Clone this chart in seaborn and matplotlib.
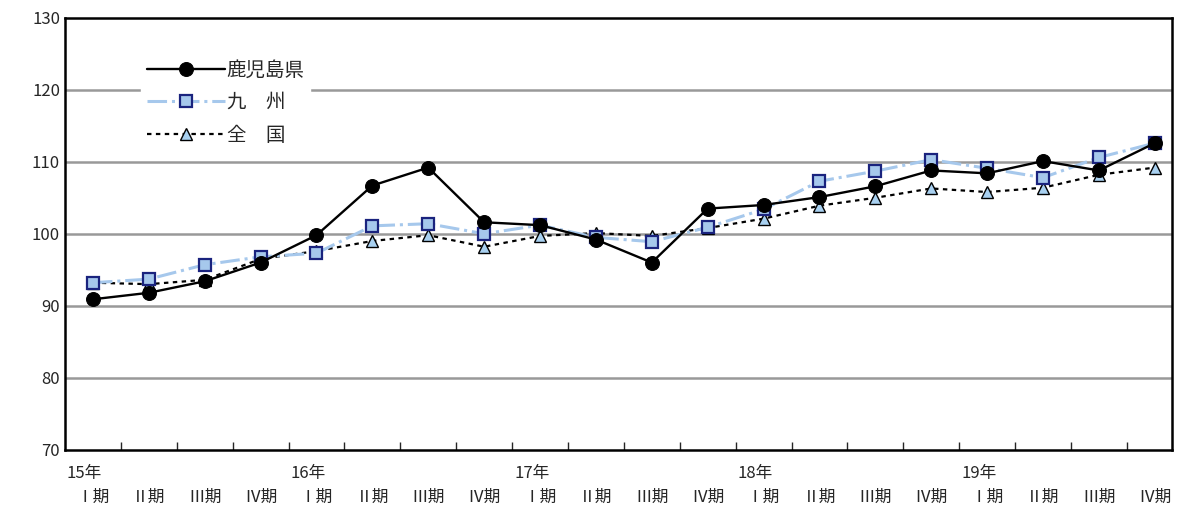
import matplotlib
matplotlib.use('Agg')
import matplotlib.pyplot as plt
import seaborn as sns
import pandas as pd

sns.set_style('white')
plt.rcParams['font.family'] = ['Noto Sans CJK JP', 'DejaVu Sans']

periods = ['Ⅰ期', 'Ⅱ期', 'Ⅲ期', 'Ⅳ期'] * 5
years = ['15年', '16年', '17年', '18年', '19年']
kagoshima = [90.9, 91.8, 93.4, 96.0, 99.8, 106.7, 109.2, 101.6, 101.2, 99.2,
             96.0, 103.5, 104.0, 105.1, 106.6, 108.8, 108.4, 110.1, 108.8, 112.6]
kyushu = [93.2, 93.7, 95.7, 96.8, 97.3, 101.1, 101.4, 100.0, 101.2, 99.5,
          98.9, 100.9, 103.4, 107.3, 108.7, 110.3, 109.1, 107.8, 110.6, 112.6]
zenkoku = [93.2, 93.0, 93.6, 96.5, 97.6, 99.0, 99.8, 98.2, 99.7, 100.1,
           99.7, 100.8, 102.1, 103.9, 105.0, 106.3, 105.8, 106.4, 108.2, 109.2]

df = pd.DataFrame({'x': range(20), 'k': kagoshima, 'q': kyushu, 'z': zenkoku})

fig, ax = plt.subplots(figsize=(11.81, 5.11), dpi=100)
fig.subplots_adjust(left=0.055, right=0.992, top=0.965, bottom=0.12)

for y in [80, 90, 100, 110, 120]:
    ax.axhline(y, color='#999999', lw=1.8, zorder=0)

sns.lineplot(data=df, x='x', y='z', ax=ax, color='black', ls=(0, (2, 2)), lw=1.6,
             marker='^', ms=8, mfc='#a8d0f0', mec='black', mew=1, label='全\u3000国', zorder=3)
sns.lineplot(data=df, x='x', y='q', ax=ax, color='#a6c8ec', ls='-.', lw=2.2,
             marker='s', ms=9, mfc='#a6c8ec', mec='#1a237e', mew=1.6, label='九\u3000州', zorder=4)
sns.lineplot(data=df, x='x', y='k', ax=ax, color='black', lw=1.7,
             marker='o', ms=10, mfc='black', mec='black', label='鹿児島県', zorder=5)

ax.set_xlim(-0.5, 19.3)
ax.set_ylim(70, 130)
ax.set_yticks(range(70, 131, 10))
ax.set_xticks([i + 0.5 for i in range(19)], minor=True)
ax.set_xticks(range(20))
ax.set_xticklabels([])
ax.tick_params(axis='x', which='minor', direction='in', length=6, width=1, bottom=True)
ax.tick_params(axis='x', which='major', length=0)
ax.tick_params(axis='y', length=0, labelsize=12)
ax.set_xlabel('')
ax.set_ylabel('')
for i in range(20):
    ax.text(i, -0.11, periods[i], transform=ax.get_xaxis_transform(), ha='center', va='center', fontsize=12)
for j, yr in enumerate(years):
    ax.text(j * 4 - 0.15, -0.055, yr, transform=ax.get_xaxis_transform(), ha='center', va='center', fontsize=12)
for s in ax.spines.values():
    s.set_linewidth(1.8)
    s.set_color('black')

h, l = ax.get_legend_handles_labels()
leg = ax.legend(h[::-1], l[::-1], loc='upper left', bbox_to_anchor=(0.06, 0.94), frameon=True,
                fontsize=14, handlelength=4, labelspacing=0.6, borderpad=0.3, handletextpad=0.1)
leg.get_frame().set_edgecolor('white')
leg.get_frame().set_facecolor('white')
leg.get_frame().set_alpha(1)

fig.savefig('out.png', dpi=100)
